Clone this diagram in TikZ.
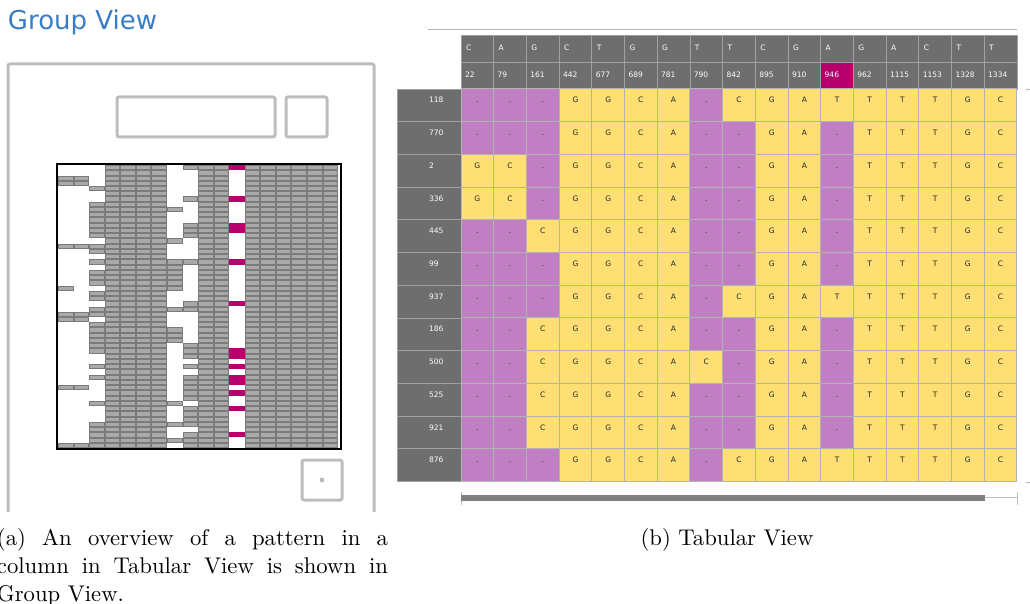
\documentclass[tikz,border=0pt]{standalone}
\usepackage{fontspec}
\newfontfamily\uifont{DejaVu Sans}
\newfontfamily\capfont[Extension=.otf]{lmroman10-regular}
\usetikzlibrary{positioning}

\definecolor{titleblue}{HTML}{3B7DC4}
\definecolor{framegray}{HTML}{BDBDBD}
\definecolor{bargray}{HTML}{A9A9A9}
\definecolor{barline}{HTML}{7B7B7B}
\definecolor{hilite}{HTML}{B6006B}
\definecolor{headgray}{HTML}{6E6E6E}
\definecolor{headline}{HTML}{A0A0A0}
\definecolor{gapc}{HTML}{C07FC2}
\definecolor{basec}{HTML}{FDDF74}
\definecolor{gridc}{HTML}{B3B3B3}
\definecolor{scrollgray}{HTML}{808080}

\begin{document}
\begin{tikzpicture}[x=1pt,y=-1pt,
		every node/.style={inner sep=0pt, outer sep=0pt},
		uibox/.style={draw=framegray, line width=3pt, rounded corners=2pt},
		bar/.style={fill=bargray, draw=barline, line width=0.9pt},
		headcell/.style={draw=headline, line width=0.8pt, minimum width=32.7pt, minimum height=27pt, anchor=north west},
		cell/.style={draw=gridc, line width=1pt, minimum width=32.7pt, minimum height=32.7pt, anchor=north west},
		rowlab/.style={draw=headline, line width=0.8pt, fill=headgray, minimum width=64pt, minimum height=32.7pt, anchor=north west},
		headtxt/.style={font=\uifont\fontsize{7.5}{8}\selectfont, text=white, anchor=base west},
		celltxt/.style={font=\uifont\fontsize{7.5}{8}\selectfont, text=black!85, anchor=base},
		captxt/.style={font=\capfont\fontsize{22.7}{28}\selectfont}]
	\useasboundingbox (0,0) rectangle (1030,604);

	% group view
	\node[anchor=base west, font=\uifont\fontsize{26}{30}\selectfont, text=titleblue] (title) at (8,30) {Group View};
	\draw[uibox] (8,512) -- (8,64) -- (374,64) -- (374,512);
	\draw[uibox] (117,97) rectangle (275,137);
	\draw[uibox] (286,97) rectangle (327,137);
	\draw[uibox] (302,460) rectangle (342,500);
	\fill[framegray] (322,480) circle (2.5);

	% one bar per base, gaps stay white
	\foreach \c/\rows in {0/{2,3,15,23,28,29,42,53},
			1/{2,3,15,28,29,42,53},
			2/{4,7,8,9,10,11,12,13,15,16,18,20,21,22,24,25,27,28,30,31,32,33,34,35,38,40,45,49,50,51,52,53},
			3/{0,...,53}, 4/{0,...,53}, 5/{0,...,53}, 6/{0,...,53},
			7/{8,14,18,19,20,21,22,23,27,31,32,33,45,49,52},
			8/{0,6,11,12,13,18,26,27,34,35,36,38,40,41,42,43,44,46,47,48,49,51,52,53},
			9/{0,...,53}, 10/{0,...,53},
			12/{0,...,53}, 13/{0,...,53}, 14/{0,...,53}, 15/{0,...,53}, 16/{0,...,53}, 17/{0,...,53}}
		\foreach \r in \rows
			\draw[bar] ({58.5+\c*15.56},{165.5+\r*5.24}) rectangle ++(14.56,4.24);
	\foreach \r in {0,6,11,12,18,26,35,36,38,40,41,43,46,51}
		\fill[hilite] ({58+11*15.56},{165+\r*5.24}) rectangle ++(15.56,5.24);
	\draw[line width=2pt] (57,164) rectangle (340.5,449);

	% tabular view
	\draw[gridc, line width=0.8pt] (428,29) -- (1017,29);
	\foreach \b/\pos [count=\c from 0] in {C/22,A/79,G/161,C/442,T/677,G/689,G/781,T/790,T/842,C/895,G/910,A/946,G/962,A/1115,C/1153,T/1328,T/1334} {
		\ifnum\c=11 \def\hc{hilite}\else\def\hc{headgray}\fi
		\node[headcell, fill=headgray] (b\c) at ({461+\c*32.7},35) {};
		\node[headtxt] at ([xshift=5pt, yshift=-16pt]b\c.north west) {\b};
		\node[headcell, fill=\hc] (p\c) at ({461+\c*32.7},62) {};
		\node[headtxt] at ([xshift=4pt, yshift=-16pt]p\c.north west) {\pos};
	}
	\foreach \lab/\seq [count=\r from 0] in {
			118/{.,.,.,G,G,C,A,.,C,G,A,T,T,T,T,G,C},
			770/{.,.,.,G,G,C,A,.,.,G,A,.,T,T,T,G,C},
			2/{G,C,.,G,G,C,A,.,.,G,A,.,T,T,T,G,C},
			336/{G,C,.,G,G,C,A,.,.,G,A,.,T,T,T,G,C},
			445/{.,.,C,G,G,C,A,.,.,G,A,.,T,T,T,G,C},
			99/{.,.,.,G,G,C,A,.,.,G,A,.,T,T,T,G,C},
			937/{.,.,.,G,G,C,A,.,C,G,A,T,T,T,T,G,C},
			186/{.,.,C,G,G,C,A,.,.,G,A,.,T,T,T,G,C},
			500/{.,.,C,G,G,C,A,C,.,G,A,.,T,T,T,G,C},
			525/{.,.,C,G,G,C,A,.,.,G,A,.,T,T,T,G,C},
			921/{.,.,C,G,G,C,A,.,.,G,A,.,T,T,T,G,C},
			876/{.,.,.,G,G,C,A,.,C,G,A,T,T,T,T,G,C}} {
		\node[rowlab] (l\r) at (397,{89+\r*32.7}) {};
		\node[headtxt] at ([xshift=32pt, yshift=-14pt]l\r.north west) {\lab};
		\foreach \b [count=\c from 0] in \seq {
			\if\b.\def\cc{gapc}\else\def\cc{basec}\fi
			\node[cell, fill=\cc] (c\r-\c) at ({461+\c*32.7},{89+\r*32.7}) {};
			\node[celltxt] at ([yshift=-14pt]c\r-\c.north) {\b};
		}
	}
	\draw[gridc] (1026,89) -- (1030,89) (1026,482) -- (1030,482);

	% scroll bar
	\coordinate (sbl) at (461,497);
	\coordinate (sbr) at (1017,497);
	\draw[framegray, line width=1pt] (sbl) -- (sbr);
	\draw[framegray, line width=1pt] ([yshift=5pt]sbl) -- ([yshift=-8pt]sbl) ([yshift=5pt]sbr) -- ([yshift=-8pt]sbr);
	\fill[scrollgray] (461,494.5) rectangle (985,500.5);

	% captions
	\node[captxt, anchor=north west, text width=391pt, align=justify] (capa) at (-3,528) {(a) An overview of a pattern in a\linebreak column in Tabular View is shown in\linebreak Group View.};
	\node[captxt, anchor=base] (capb) at (727,545) {(b) Tabular View};
\end{tikzpicture}
\end{document}
